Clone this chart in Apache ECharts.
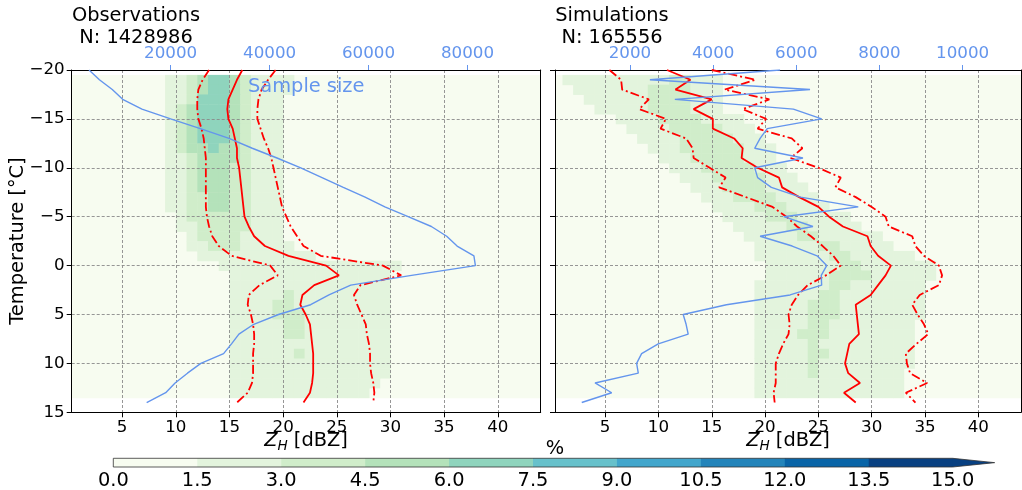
<!DOCTYPE html>
<html>
<head>
<meta charset="utf-8">
<script src="https://cdn.jsdelivr.net/npm/echarts@6/dist/echarts.min.js"></script>
<style>
  html, body { margin: 0; padding: 0; background: #ffffff; }
  #chart { width: 1022px; height: 490px; }
</style>
</head>
<body>
<div id="chart"></div>
<script>
// Temperature levels of the profiles (°C)
const temperature = [-20,-19,-18,-17,-16,-15,-14,-13,-12,-11,-10,-9,-8,-7,-6,-5,-4,-3,-2,-1,0,1,2,3,4,5,6,7,8,9,10,11,12,13,14];

// Observations: median and lower/upper percentile of Z_H (dBZ), sample size
const obsMedian = [16.2,15.7,15.3,14.9,14.8,14.9,15.3,15.5,15.7,15.7,15.9,16.0,16.1,16.2,16.3,16.4,16.8,17.3,18.3,20.5,24.0,25.2,22.9,21.8,21.6,22.1,22.5,22.6,22.7,22.8,22.8,22.8,22.7,22.5,21.9];
const obsLow    = [13.1,12.5,12.1,12.0,12.0,12.1,12.4,12.6,12.7,12.8,12.8,12.8,12.8,12.8,12.8,12.9,13.1,13.4,14.0,15.2,18.8,19.5,17.8,16.8,16.7,17.0,17.2,17.3,17.3,17.2,17.2,17.2,17.1,16.7,15.7];
const obsHigh   = [19.3,18.6,18.0,17.7,17.6,17.6,17.9,18.2,18.6,18.9,19.1,19.3,19.5,19.7,19.9,20.3,20.7,21.3,21.9,23.5,29.3,31.0,27.2,26.6,26.9,27.3,27.7,27.8,28.0,28.1,28.1,28.2,28.4,28.5,28.4];
const obsCount  = [3500,5600,8200,10300,14200,20000,26000,31800,36500,41500,46300,50600,54900,59300,63300,68000,72700,75800,77900,81300,81600,68700,56400,52000,48300,41800,36800,33800,32300,30700,26100,23400,20900,19000,15150];

// Simulations: median and lower/upper percentile of Z_H (dBZ), sample size
const simMedian = [10.8,13.0,11.6,15.0,13.3,15.1,15.1,17.1,17.9,17.8,19.3,21.3,21.6,23.2,25.0,26.0,27.3,29.6,29.9,30.6,31.8,31.3,30.6,29.9,28.5,28.6,28.7,28.8,27.9,27.7,27.5,27.8,28.9,27.4,28.5];
const simLow    = [5.4,6.5,6.6,9.1,8.2,10.7,10.2,12.6,13.2,13.3,14.8,16.3,15.7,18.2,20.7,22.0,23.0,24.3,25.4,26.4,27.1,25.7,24.0,23.1,22.5,22.2,22.3,22.2,21.7,21.3,21.0,21.0,21.0,20.8,20.9];
const simHigh   = [15.0,19.1,16.2,20.4,17.9,20.1,19.3,22.5,23.5,22.4,25.0,27.1,26.6,28.5,30.0,31.3,31.6,33.8,34.1,34.9,36.3,36.6,36.3,34.5,33.8,34.3,34.9,35.3,34.2,33.2,33.3,33.6,35.2,33.2,34.1];
const simCount  = [5610,2480,6330,3080,5930,6610,5300,5130,5000,6160,5000,5070,5400,6100,7490,5700,6400,5130,5900,6500,6730,6600,6610,5850,4320,3280,3350,3400,2680,2280,2160,2200,1160,1560,840];

// Frequency (%) per 1 °C x 1 dBZ bin; rows are temperature bin centres,
// each row starts at the dBZ bin given in the matching *RowStart entry.
const freqTemps = [-19,-18,-17,-16,-15,-14,-13,-12,-11,-10,-9,-8,-7,-6,-5,-4,-3,-2,-1,0,1,2,3,4,5,6,7,8,9,10,11,12,13];

const obsRowStart = [9,9,9,9,9,9,9,9,9,9,9,9,9,9,10,10,11,11,12,14,15,15,15,15,15,15,15,15,15,15,15,15,15];
const obsFreq = [
  [1.8,2.4,3.6,5.0,6.2,6.1,4.8,3.4,2.6,2.1,1.8,1.6],
  [1.9,2.6,4.0,5.6,6.4,6.3,4.9,3.4,2.6,2.1,1.8,1.6],
  [2.0,2.9,4.4,6.1,6.7,6.4,4.8,3.3,2.5,2.0,1.7],
  [2.2,3.1,4.8,6.5,6.9,6.3,4.6,3.2,2.4,1.9,1.6],
  [2.3,3.3,5.0,6.7,7.0,6.2,4.6,3.2,2.4,1.9,1.6],
  [2.3,3.3,5.0,6.5,6.8,6.1,4.7,3.3,2.5,1.9,1.6],
  [2.2,3.2,4.8,6.2,6.5,6.0,4.7,3.4,2.5,2.0,1.6],
  [2.1,3.0,4.5,5.8,6.2,5.8,4.7,3.4,2.6,2.0,1.6],
  [2.0,2.9,4.2,5.3,5.7,5.4,4.5,3.4,2.6,2.0,1.6],
  [1.9,2.8,3.9,4.9,5.2,5.0,4.4,3.4,2.6,2.0,1.6],
  [1.8,2.7,3.7,4.6,4.9,4.8,4.2,3.4,2.6,2.0,1.6],
  [1.7,2.6,3.6,4.5,4.8,4.6,4.1,3.3,2.6,2.0,1.6],
  [1.7,2.5,3.5,4.4,4.7,4.6,4.0,3.3,2.6,2.0,1.7],
  [1.6,2.4,3.4,4.3,4.6,4.5,3.9,3.3,2.6,2.1,1.7],
  [2.2,3.2,4.1,4.4,4.3,3.8,3.2,2.6,2.1,1.7],
  [2.0,2.9,3.7,4.0,3.9,3.6,3.1,2.6,2.1,1.7],
  [2.5,3.2,3.5,3.5,3.3,2.9,2.5,2.1,1.7],
  [2.1,2.7,3.0,3.1,3.0,2.8,2.4,2.1,1.8,1.5],
  [1.8,2.2,2.5,2.6,2.6,2.5,2.3,2.1,1.9,1.7,1.5],
  [1.6,1.8,2.0,2.1,2.2,2.3,2.3,2.3,2.2,2.1,2.0,1.9,1.8,1.7,1.6,1.6,1.5],
  [1.6,1.8,2.0,2.2,2.3,2.3,2.3,2.2,2.1,2.0,1.9,1.8,1.7,1.6,1.5],
  [1.5,1.7,2.0,2.4,2.7,2.8,2.8,2.7,2.5,2.3,2.0,1.8,1.6,1.5,1.5],
  [1.5,1.8,2.2,2.6,2.9,3.0,2.9,2.7,2.4,2.1,1.9,1.7,1.6,1.5,1.5],
  [1.5,1.8,2.3,2.7,3.0,3.1,2.9,2.7,2.4,2.1,1.9,1.7,1.6,1.5,1.5],
  [1.5,1.8,2.2,2.7,3.0,3.1,3.0,2.8,2.5,2.2,1.9,1.7,1.6,1.5,1.5],
  [1.5,1.7,2.1,2.6,2.9,3.1,3.0,2.8,2.5,2.2,1.9,1.7,1.6,1.5,1.5],
  [1.5,1.7,2.1,2.5,2.8,3.0,3.0,2.8,2.6,2.3,2.0,1.7,1.6,1.5,1.5],
  [1.5,1.6,2.0,2.5,2.8,2.9,2.9,2.8,2.6,2.3,2.0,1.7,1.6,1.5,1.5],
  [1.5,1.6,2.0,2.4,2.7,2.9,3.0,2.8,2.6,2.3,2.0,1.7,1.6,1.5,1.5],
  [1.5,1.6,2.0,2.4,2.7,2.9,2.9,2.8,2.6,2.3,2.0,1.7,1.6,1.5,1.5],
  [1.5,1.5,1.9,2.3,2.7,2.8,2.9,2.8,2.6,2.3,2.0,1.7,1.6,1.5,1.5],
  [1.5,1.5,1.9,2.3,2.6,2.8,2.9,2.8,2.5,2.3,2.0,1.7,1.6,1.5],
  [1.5,1.5,1.8,2.2,2.6,2.8,2.8,2.7,2.5,2.2,1.9,1.7,1.5]
];

const simRowStart = [1,2,3,4,6,7,8,9,10,11,12,13,14,15,16,17,18,19,19,20,20,19,19,19,19,19,19,19,19,19,19,19,19];
const simFreq = [
  [1.6,1.7,1.8,1.9,2.0,2.1,2.2,2.4,2.6,2.8,3.1,3.2,2.8,2.1,1.6],
  [1.6,1.7,1.9,2.0,2.2,2.4,2.7,3.0,3.3,3.4,3.1,2.6,1.9,1.5],
  [1.5,1.7,2.0,2.2,2.5,2.9,3.2,3.5,3.5,3.1,2.5,1.8,1.5],
  [1.5,1.7,2.0,2.3,2.7,3.1,3.4,3.6,3.3,2.8,2.2,1.7],
  [1.6,1.9,2.3,2.8,3.2,3.6,3.8,3.5,2.9,2.3,1.8,1.5],
  [1.5,1.8,2.2,2.7,3.2,3.7,3.9,3.7,3.1,2.5,1.9,1.5],
  [1.5,1.8,2.3,2.8,3.4,3.9,4.0,3.7,3.1,2.4,1.8,1.5],
  [1.6,2.0,2.5,3.0,3.6,4.0,4.0,3.7,3.0,2.3,1.7,1.5],
  [1.6,2.0,2.6,3.2,3.7,3.9,3.8,3.4,2.7,2.1,1.6],
  [1.6,2.0,2.6,3.2,3.6,3.8,3.6,3.2,2.6,2.0,1.6],
  [1.6,2.1,2.7,3.2,3.5,3.6,3.4,3.0,2.4,1.9,1.5],
  [1.6,2.1,2.6,3.1,3.4,3.4,3.2,2.8,2.3,1.8,1.5],
  [1.6,2.0,2.5,3.0,3.2,3.3,3.1,2.7,2.3,1.8,1.5],
  [1.6,1.9,2.4,2.8,3.1,3.2,3.0,2.7,2.3,1.9,1.6],
  [1.6,1.9,2.3,2.7,3.0,3.1,3.0,2.7,2.3,1.9,1.6,1.5],
  [1.6,1.9,2.2,2.6,2.9,3.1,3.0,2.8,2.4,2.1,1.8,1.6],
  [1.6,1.9,2.2,2.5,2.8,3.0,3.1,2.9,2.6,2.2,1.9,1.6,1.5],
  [1.6,2.0,2.3,2.6,2.8,2.9,3.1,3.0,2.7,2.4,2.0,1.7,1.5],
  [1.5,1.8,2.1,2.4,2.6,2.8,2.9,3.0,3.1,2.8,2.5,2.2,1.9,1.6,1.5],
  [1.6,1.9,2.1,2.4,2.6,2.8,2.9,3.1,3.1,2.9,2.6,2.3,2.0,1.8,1.6,1.5],
  [1.6,1.9,2.2,2.5,2.7,2.9,3.0,3.1,3.1,3.0,2.7,2.4,2.1,1.8,1.6,1.5],
  [1.5,1.8,2.1,2.4,2.6,2.8,2.9,3.0,3.1,2.9,2.7,2.4,2.2,1.9,1.7,1.5],
  [1.5,1.8,2.1,2.4,2.7,2.9,3.0,3.1,2.9,2.8,2.5,2.3,2.0,1.8,1.6,1.5],
  [1.5,1.8,2.1,2.5,2.8,3.0,3.1,3.0,2.9,2.7,2.5,2.2,2.0,1.7,1.6,1.5],
  [1.5,1.8,2.2,2.6,2.9,3.1,3.1,3.0,2.8,2.6,2.4,2.1,1.9,1.7,1.5,1.5],
  [1.5,1.8,2.2,2.6,2.9,3.1,3.0,2.9,2.8,2.6,2.4,2.1,1.9,1.7,1.5],
  [1.5,1.8,2.2,2.6,3.0,3.1,3.0,2.9,2.7,2.5,2.3,2.1,1.8,1.6,1.5],
  [1.5,1.8,2.2,2.6,2.9,3.0,2.9,2.8,2.7,2.5,2.3,2.0,1.8,1.6,1.5],
  [1.5,1.8,2.2,2.6,2.9,3.1,3.0,2.8,2.6,2.5,2.2,2.0,1.8,1.6,1.5],
  [1.5,1.8,2.2,2.5,2.8,3.0,2.9,2.7,2.6,2.4,2.2,2.0,1.8,1.6,1.5],
  [1.5,1.8,2.1,2.5,2.8,3.0,2.9,2.7,2.6,2.4,2.2,1.9,1.7,1.5],
  [1.5,1.8,2.1,2.5,2.8,2.9,2.8,2.7,2.5,2.4,2.2,1.9,1.7,1.5],
  [1.5,1.7,2.1,2.4,2.7,2.8,2.8,2.7,2.5,2.3,2.1,1.9,1.7,1.5]
];

// Colour scale of the frequency (%), boundaries every 1.5 %
const freqBounds = [0, 1.5, 3, 4.5, 6, 7.5, 9, 10.5, 12, 13.5, 15];
const freqColors = ['#f7fcf0','#e3f4dd','#d0edca','#b4e2ba','#8fd4bd','#67c1cb','#42a6cc','#2384ba','#0864a7','#084081'];
const freqOverColor = '#084081';

// Axis ranges
const zhRange = [0.3, 44.0];
const tRange = [-20, 15];
const freqTRange = [-19.5, 13.5];
const obsCountRange = [0, 94800];
const simCountRange = [197, 11404];
const zhTicks = [5, 10, 15, 20, 25, 30, 35, 40];
const obsCountTicks = [20000, 40000, 60000, 80000];
const simCountTicks = [2000, 4000, 6000, 8000, 10000];

const FONT = 'DejaVu Sans';
const BLUE = '#6495ed';
const RED = '#ff0000';

function colorFor(v) {
  for (let i = freqBounds.length - 2; i >= 0; i--) {
    if (v >= freqBounds[i]) return i < freqColors.length ? freqColors[i] : freqOverColor;
  }
  return freqColors[0];
}
function minusFmt(v) { return v < 0 ? '\u2212' + (-v) : String(v); }

function buildCells(rowStart, rows) {
  const cells = [[zhRange[0], zhRange[1], freqTRange[0], freqTRange[1], 0]];
  rows.forEach((row, i) => {
    const t = freqTemps[i];
    row.forEach((v, j) => {
      const x0 = rowStart[i] + j;
      cells.push([x0, x0 + 1, t - 0.5, t + 0.5, v]);
    });
  });
  return cells;
}

function renderCell(params, api) {
  const a = api.coord([api.value(0), api.value(2)]);
  const b = api.coord([api.value(1), api.value(3)]);
  const cs = params.coordSys;
  const r = echarts.graphic.clipRectByRect(
    { x: Math.min(a[0], b[0]), y: Math.min(a[1], b[1]),
      width: Math.abs(b[0] - a[0]) + 0.5, height: Math.abs(b[1] - a[1]) + 0.5 },
    { x: cs.x, y: cs.y, width: cs.width, height: cs.height });
  if (!r) return null;
  return { type: 'rect', shape: r, style: { fill: colorFor(api.value(4)) } };
}

function pairs(xs) { return xs.map((x, i) => [x, temperature[i]]); }

const axisText = { fontFamily: FONT, fontSize: 16.7, color: '#000' };

function zhAxis(gridIndex) {
  return {
    type: 'value', gridIndex, position: 'bottom', min: zhRange[0], max: zhRange[1], z: 2,
    axisLine: { show: true, onZero: false, lineStyle: { color: '#000', width: 1 } },
    axisTick: { show: true, length: 5, customValues: zhTicks, lineStyle: { color: '#000' } },
    axisLabel: Object.assign({ customValues: zhTicks, margin: 7 }, axisText),
    splitLine: { show: true, lineStyle: { color: '#8a8a8a', type: [3, 2], width: 0.9 } }
  };
}
function countAxis(gridIndex, range, ticks) {
  return {
    type: 'value', gridIndex, position: 'top', min: range[0], max: range[1], z: 2,
    axisLine: { show: true, onZero: false, lineStyle: { color: '#000', width: 1 } },
    axisTick: { show: true, length: 5, customValues: ticks, lineStyle: { color: BLUE } },
    axisLabel: { customValues: ticks, margin: 8, fontFamily: FONT, fontSize: 16.7, color: BLUE,
                 formatter: v => String(v) },
    splitLine: { show: false }
  };
}
function tAxis(gridIndex, showLabels) {
  return {
    type: 'value', gridIndex, position: 'left', inverse: true, min: tRange[0], max: tRange[1], interval: 5, z: 2,
    axisLine: { show: true, onZero: false, lineStyle: { color: '#000', width: 1 } },
    axisTick: { show: true, length: 5, lineStyle: { color: '#000' } },
    axisLabel: Object.assign({ show: showLabels, margin: 7, formatter: minusFmt }, axisText),
    splitLine: { show: true, lineStyle: { color: '#8a8a8a', type: [3, 2], width: 0.9 } }
  };
}
function frameAxis(gridIndex) {
  return {
    type: 'value', gridIndex, position: 'right', inverse: true, min: tRange[0], max: tRange[1], z: 2,
    axisLine: { show: true, onZero: false, lineStyle: { color: '#000', width: 1 } },
    axisTick: { show: false }, axisLabel: { show: false }, splitLine: { show: false }
  };
}

function profileSeries(name, xIdx, yIdx, values, dashed) {
  return {
    name, type: 'line', xAxisIndex: xIdx, yAxisIndex: yIdx, data: pairs(values), z: 3,
    symbol: 'none', silent: true, animation: false,
    lineStyle: { color: RED, width: 1.8, type: dashed ? [9, 3, 2, 3] : 'solid' }
  };
}
function countSeries(name, xIdx, yIdx, values) {
  return {
    name, type: 'line', xAxisIndex: xIdx, yAxisIndex: yIdx, data: pairs(values), z: 4,
    symbol: 'none', silent: true, animation: false,
    lineStyle: { color: BLUE, width: 1.4 }
  };
}
function freqSeries(xIdx, yIdx, cells) {
  return {
    type: 'custom', xAxisIndex: xIdx, yAxisIndex: yIdx, data: cells, z: 1,
    renderItem: renderCell, silent: true, animation: false,
    encode: { x: [0, 1], y: [2, 3] }
  };
}

// Colour bar segments built from the boundaries
const barData = freqColors.map((c, i) => [freqBounds[i], freqBounds[i + 1], i]);

const chart = echarts.init(document.getElementById('chart'), null, { renderer: 'canvas' });
chart.setOption({
  animation: false,
  backgroundColor: '#ffffff',
  grid: [
    { left: 71.7, top: 70, width: 469, height: 342.3 },
    { left: 555, top: 70, width: 466, height: 342.3 },
    { left: 113.3, top: 458.3, width: 839.4, height: 9 }
  ],
  xAxis: [
    zhAxis(0),
    countAxis(0, obsCountRange, obsCountTicks),
    zhAxis(1),
    countAxis(1, simCountRange, simCountTicks),
    {
      type: 'value', gridIndex: 2, min: 0, max: 15, interval: 1.5,
      axisLine: { show: false }, axisTick: { show: false }, splitLine: { show: false },
      axisLabel: { margin: 4, fontFamily: FONT, fontSize: 19.4, color: '#000', formatter: v => v.toFixed(1) }
    }
  ],
  yAxis: [
    tAxis(0, true),
    tAxis(1, false),
    { type: 'value', gridIndex: 2, min: 0, max: 1, show: false },
    frameAxis(0),
    frameAxis(1)
  ],
  series: [
    freqSeries(0, 0, buildCells(obsRowStart, obsFreq)),
    profileSeries('obs median', 0, 0, obsMedian, false),
    profileSeries('obs low', 0, 0, obsLow, true),
    profileSeries('obs high', 0, 0, obsHigh, true),
    countSeries('obs count', 1, 0, obsCount),

    freqSeries(2, 1, buildCells(simRowStart, simFreq)),
    profileSeries('sim median', 2, 1, simMedian, false),
    profileSeries('sim low', 2, 1, simLow, true),
    profileSeries('sim high', 2, 1, simHigh, true),
    countSeries('sim count', 3, 1, simCount),

    {
      type: 'custom', xAxisIndex: 4, yAxisIndex: 2, data: barData, silent: true, animation: false,
      encode: { x: [0, 1] },
      renderItem(params, api) {
        const a = api.coord([api.value(0), 0]);
        const b = api.coord([api.value(1), 1]);
        const children = [{
          type: 'rect',
          shape: { x: a[0], y: b[1], width: b[0] - a[0] + 0.5, height: a[1] - b[1] },
          style: { fill: freqColors[api.value(2)] }
        }];
        if (params.dataIndex === barData.length - 1) {
          // extension triangle for values above the last boundary, plus the outline
          const start = api.coord([freqBounds[0], 0]);
          const tipX = b[0] + (b[0] - a[0]) / 2;
          const midY = (a[1] + b[1]) / 2;
          children.push({
            type: 'polygon',
            shape: { points: [[b[0], b[1]], [tipX, midY], [b[0], a[1]]] },
            style: { fill: freqOverColor }
          });
          children.push({
            type: 'polygon',
            shape: { points: [[start[0], b[1]], [b[0], b[1]], [tipX, midY], [b[0], a[1]], [start[0], a[1]]] },
            style: { fill: 'none', stroke: '#333', lineWidth: 0.8 }
          });
        }
        return { type: 'group', children };
      }
    }
  ],
  graphic: [
    { type: 'text', x: 136, y: 16, style: { text: 'Observations', font: '19.4px "DejaVu Sans"', fill: '#000', textAlign: 'center', textVerticalAlign: 'middle' } },
    { type: 'text', x: 136, y: 38, style: { text: 'N: 1428986', font: '19.4px "DejaVu Sans"', fill: '#000', textAlign: 'center', textVerticalAlign: 'middle' } },
    { type: 'text', x: 612, y: 16, style: { text: 'Simulations', font: '19.4px "DejaVu Sans"', fill: '#000', textAlign: 'center', textVerticalAlign: 'middle' } },
    { type: 'text', x: 612, y: 38, style: { text: 'N: 165556', font: '19.4px "DejaVu Sans"', fill: '#000', textAlign: 'center', textVerticalAlign: 'middle' } },
    { type: 'text', x: 248, y: 87, z: 10, style: { text: 'Sample size', font: '19.4px "DejaVu Sans"', fill: BLUE, textAlign: 'left', textVerticalAlign: 'middle' } },
    { type: 'text', x: 18, y: 241, rotation: Math.PI / 2, style: { text: 'Temperature [°C]', font: '19.4px "DejaVu Sans"', fill: '#000', textAlign: 'center', textVerticalAlign: 'middle' } },
    { type: 'text', x: 306, y: 441, style: {
        text: '{z|Z}{h|H} [dBZ]', fill: '#000', textAlign: 'center', textVerticalAlign: 'middle',
        font: '19.4px "DejaVu Sans"',
        rich: { z: { fontFamily: FONT, fontSize: 19.4, fontStyle: 'italic', lineHeight: 24 },
                h: { fontFamily: FONT, fontSize: 13.6, fontStyle: 'italic', lineHeight: 14, verticalAlign: 'bottom' } } } },
    { type: 'text', x: 788, y: 441, style: {
        text: '{z|Z}{h|H} [dBZ]', fill: '#000', textAlign: 'center', textVerticalAlign: 'middle',
        font: '19.4px "DejaVu Sans"',
        rich: { z: { fontFamily: FONT, fontSize: 19.4, fontStyle: 'italic', lineHeight: 24 },
                h: { fontFamily: FONT, fontSize: 13.6, fontStyle: 'italic', lineHeight: 14, verticalAlign: 'bottom' } } } },
    { type: 'text', x: 555, y: 449, style: { text: '%', font: '19.4px "DejaVu Sans"', fill: '#000', textAlign: 'center', textVerticalAlign: 'middle' } }
  ]
});
</script>
</body>
</html>
